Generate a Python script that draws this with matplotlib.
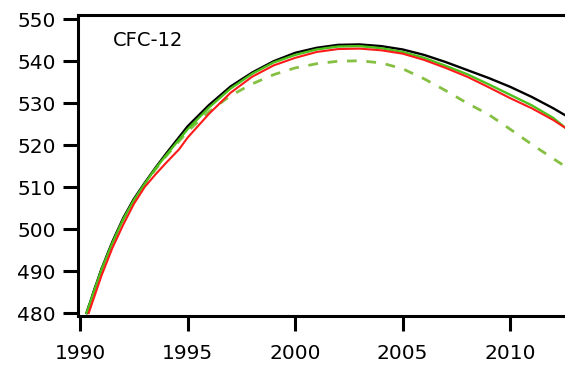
import numpy as np
import matplotlib
matplotlib.use("Agg")
import matplotlib.pyplot as plt

# CFC-12 abundance curves
yr_black = [1990.3, 1990.7, 1991, 1991.5, 1992, 1992.5, 1993, 1993.5, 1994, 1995, 1996, 1997,
            1998, 1999, 2000, 2001, 2002, 2003, 2004, 2005, 2006, 2007, 2008, 2009, 2010,
            2011, 2012, 2012.6]
black = [480, 486.2, 490.6, 497, 502.6, 507.2, 511, 514.6, 518, 524.5, 529.6, 534,
         537.3, 540, 542, 543.2, 543.9, 544, 543.6, 542.8, 541.5, 539.8, 537.9, 536, 533.9,
         531.5, 528.8, 527]

yr_red = [1990.4, 1990.8, 1991, 1991.5, 1992, 1992.5, 1993, 1993.5, 1994, 1994.6, 1995, 1996,
          1997, 1998, 1999, 2000, 2001, 2002, 2003, 2004, 2005, 2006, 2007, 2008, 2009,
          2010, 2011, 2012, 2012.6]
red = [480, 486, 489, 495.5, 501, 506, 510, 513, 515.8, 519, 521.8, 527.5,
       532.5, 536.3, 539, 540.8, 542.2, 542.9, 543, 542.6, 541.8, 540.3, 538.4, 536.3, 533.8,
       531.2, 528.8, 526, 524]

yr_green = yr_black
green = [480, 486, 490.4, 496.7, 502.3, 506.9, 510.8, 514.4, 517.6, 523.8, 529, 533.5,
         537, 539.7, 541.5, 542.8, 543.5, 543.6, 543.1, 542.2, 540.8, 538.9, 536.9, 534.5, 532,
         529.5, 526.5, 524]

yr_dash = yr_black
green_dash = [480, 486, 490.4, 496.7, 502.3, 506.9, 510.7, 514.2, 517.4, 523.3, 528, 531.8,
              534.6, 536.8, 538.4, 539.4, 540, 540.1, 539.6, 538.2, 535.8, 533, 530, 527.3, 523.8,
              520.2, 516.8, 514.8]

fig = plt.figure(figsize=(5.65, 3.67), dpi=100)
ax = fig.add_axes([0.138, 0.139, 0.862, 0.82])

ax.plot(yr_dash, green_dash, color='#86c043', lw=2, dashes=(3.5, 3.5))
ax.plot(yr_black, black, color='black', lw=1.7)
ax.plot(yr_green, green, color='#4cc21a', lw=1.7)
ax.plot(yr_red, red, color='#ff1a1a', lw=1.5)

ax.set_xlim(1989.9, 2012.55)
ax.set_ylim(479.3, 551)
ax.set_xticks(np.arange(1990, 2011, 5))
ax.set_yticks(np.arange(480, 551, 10))

ax.spines['right'].set_visible(False)
for s in ['left', 'bottom', 'top']:
    ax.spines[s].set_linewidth(2.2)
ax.tick_params(direction='out', length=11, width=2.2, labelsize=14.5, pad=5)
ax.tick_params(axis='x', pad=9)

ax.text(0.072, 0.915, 'CFC-12', transform=ax.transAxes, fontsize=14,
        va='center', ha='left')

fig.savefig('out.png', dpi=100)
